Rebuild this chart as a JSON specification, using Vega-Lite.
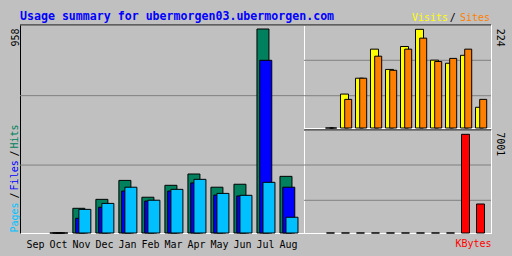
{
  "$schema": "https://vega.github.io/schema/vega-lite/v6.json",
  "autosize": {"type": "none"},
  "padding": {"left": 20, "top": 25, "right": 492, "bottom": 231},
  "background": "#c0c0c0",
  "bounds": "flush",
  "spacing": 0,
  "config": {
    "view": {"stroke": "white", "strokeWidth": 1},
    "font": "DejaVu Sans Mono",
    "axis": {
      "labelFont": "DejaVu Sans Mono", "titleFont": "DejaVu Sans Mono",
      "labelFontSize": 10, "titleFontSize": 10, "titleFontWeight": "normal",
      "labelColor": "black", "ticks": false, "tickSize": 0, "grid": false,
      "domainColor": "white", "domainWidth": 1,
      "labelFlush": false, "labelOverlap": false, "labelBound": false
    },
    "text": {"font": "DejaVu Sans Mono", "fontSize": 10}
  },
  "datasets": {
    "monthly": [
      {"month": "Oct", "hits": 0, "files": 0, "pages": 0, "visits": 0, "sites": 0, "kbytes": 0},
      {"month": "Nov", "hits": 116, "files": 69, "pages": 111, "visits": 77, "sites": 65, "kbytes": 0},
      {"month": "Dec", "hits": 158, "files": 121, "pages": 139, "visits": 113, "sites": 113, "kbytes": 0},
      {"month": "Jan", "hits": 247, "files": 197, "pages": 215, "visits": 179, "sites": 163, "kbytes": 0},
      {"month": "Feb", "hits": 168, "files": 150, "pages": 154, "visits": 133, "sites": 131, "kbytes": 0},
      {"month": "Mar", "hits": 224, "files": 197, "pages": 205, "visits": 185, "sites": 179, "kbytes": 0},
      {"month": "Apr", "hits": 277, "files": 235, "pages": 252, "visits": 224, "sites": 204, "kbytes": 0},
      {"month": "May", "hits": 215, "files": 178, "pages": 186, "visits": 154, "sites": 151, "kbytes": 0},
      {"month": "Jun", "hits": 229, "files": 174, "pages": 177, "visits": 147, "sites": 158, "kbytes": 0},
      {"month": "Jul", "hits": 958, "files": 811, "pages": 238, "visits": 165, "sites": 179, "kbytes": 7001},
      {"month": "Aug", "hits": 266, "files": 215, "pages": 74, "visits": 47, "sites": 65, "kbytes": 2057}
    ]
  },
  "hconcat": [
    {
      "width": 284,
      "height": 208,
      "title": {
        "text": "Usage summary for ubermorgen03.ubermorgen.com",
        "anchor": "start", "frame": "group", "color": "#0000ff",
        "font": "DejaVu Sans Mono", "fontSize": 11.6, "fontWeight": "bold",
        "baseline": "alphabetic", "offset": -7.5
      },
      "data": {"name": "monthly"},
      "layer": [
        {"data": {"values": [{}]}, "mark": {"type": "rule", "color": "#808080"}, "encoding": {"y": {"datum": 645, "type": "quantitative"}}},
        {"data": {"values": [{}]}, "mark": {"type": "rule", "color": "#808080"}, "encoding": {"y": {"datum": 319, "type": "quantitative"}}},
        {"data": {"values": [{}]}, "mark": {"type": "rule", "color": "black"}, "encoding": {"y": {"datum": 976.8, "type": "quantitative"}}},
        {
          "mark": {"type": "bar", "color": "#00805c", "stroke": "black", "strokeWidth": 1, "width": 12, "xOffset": -2.6},
          "encoding": {
            "x": {
              "field": "month", "type": "nominal", "title": null,
              "scale": {"domain": ["Sep", "Oct", "Nov", "Dec", "Jan", "Feb", "Mar", "Apr", "May", "Jun", "Jul", "Aug"], "paddingInner": 0, "paddingOuter": 0.17},
              "axis": {"labelAngle": 0, "labelBaseline": "alphabetic", "labelPadding": 14.5, "domainColor": "white"}
            },
            "y": {
              "field": "hits", "type": "quantitative", "title": null,
              "scale": {"domain": [0, 976.8], "nice": false, "zero": true},
              "axis": {"orient": "left", "values": [958], "format": "d", "labelAngle": 270, "labelAlign": "right", "labelBaseline": "alphabetic", "labelPadding": 1.7, "labelOffset": -1, "domainColor": "black"}
            }
          }
        },
        {
          "mark": {"type": "bar", "color": "#0000ff", "stroke": "black", "strokeWidth": 1, "width": 12, "xOffset": 0.2},
          "encoding": {
            "x": {"field": "month", "type": "nominal", "title": null},
            "y": {"field": "files", "type": "quantitative", "title": null}
          }
        },
        {
          "mark": {"type": "bar", "color": "#00c0ff", "stroke": "black", "strokeWidth": 1, "width": 12, "xOffset": 3.4},
          "encoding": {
            "x": {"field": "month", "type": "nominal", "title": null},
            "y": {"field": "pages", "type": "quantitative", "title": null}
          }
        },
        {"data": {"values": [{"label": "Pages"}]}, "mark": {"type": "text", "angle": 270, "align": "left", "baseline": "alphabetic", "dy": -17, "color": "#00c0ff"}, "encoding": {"x": {"datum": "Sep"}, "y": {"datum": 2, "type": "quantitative"}, "text": {"field": "label"}}},
        {"data": {"values": [{"label": "/"}]}, "mark": {"type": "text", "angle": 270, "align": "left", "baseline": "alphabetic", "dy": -17, "color": "black"}, "encoding": {"x": {"datum": "Sep"}, "y": {"datum": 162, "type": "quantitative"}, "text": {"field": "label"}}},
        {"data": {"values": [{"label": "Files"}]}, "mark": {"type": "text", "angle": 270, "align": "left", "baseline": "alphabetic", "dy": -17, "color": "#0000ff"}, "encoding": {"x": {"datum": "Sep"}, "y": {"datum": 200, "type": "quantitative"}, "text": {"field": "label"}}},
        {"data": {"values": [{"label": "/"}]}, "mark": {"type": "text", "angle": 270, "align": "left", "baseline": "alphabetic", "dy": -17, "color": "black"}, "encoding": {"x": {"datum": "Sep"}, "y": {"datum": 359, "type": "quantitative"}, "text": {"field": "label"}}},
        {"data": {"values": [{"label": "Hits"}]}, "mark": {"type": "text", "angle": 270, "align": "left", "baseline": "alphabetic", "dy": -17, "color": "#00805c"}, "encoding": {"x": {"datum": "Sep"}, "y": {"datum": 397, "type": "quantitative"}, "text": {"field": "label"}}}
      ]
    },
    {
      "bounds": "flush",
      "spacing": 2,
      "vconcat": [
        {
          "width": 187,
          "height": 103,
          "data": {"name": "monthly"},
          "layer": [
            {"data": {"values": [{}]}, "mark": {"type": "rule", "color": "#808080"}, "encoding": {"y": {"datum": 153.7, "type": "quantitative"}}},
            {"data": {"values": [{}]}, "mark": {"type": "rule", "color": "#808080"}, "encoding": {"y": {"datum": 73.3, "type": "quantitative"}}},
            {"data": {"values": [{}]}, "mark": {"type": "rule", "color": "black"}, "encoding": {"y": {"datum": 233.8, "type": "quantitative"}}},
            {
              "mark": {"type": "bar", "color": "#ffff00", "stroke": "black", "strokeWidth": 1, "width": 8, "xOffset": -0.5},
              "encoding": {
                "x": {
                  "field": "month", "type": "nominal", "title": null,
                  "scale": {"domain": ["Sep", "Oct", "Nov", "Dec", "Jan", "Feb", "Mar", "Apr", "May", "Jun", "Jul", "Aug"], "paddingInner": 0, "paddingOuter": 0.233},
                  "axis": {"labels": false, "domainColor": "white"}
                },
                "y": {
                  "field": "visits", "type": "quantitative", "title": null,
                  "scale": {"domain": [0, 233.8], "nice": false, "zero": true},
                  "axis": {"orient": "right", "values": [224], "format": "d", "labelAngle": 90, "labelAlign": "left", "labelBaseline": "alphabetic", "labelPadding": 5.5, "labelOffset": -1, "domainColor": "white"}
                }
              }
            },
            {
              "mark": {"type": "bar", "color": "#ff8000", "stroke": "black", "strokeWidth": 1, "width": 7, "xOffset": 3.2},
              "encoding": {
                "x": {"field": "month", "type": "nominal", "title": null},
                "y": {"field": "sites", "type": "quantitative", "title": null}
              }
            },
            {"data": {"values": [{"label": "Visits"}]}, "mark": {"type": "text", "align": "right", "baseline": "alphabetic", "dx": -32, "dy": -4.5, "color": "#ffff00"}, "encoding": {"x": {"datum": "Aug"}, "y": {"datum": 233.8, "type": "quantitative"}, "text": {"field": "label"}}},
            {"data": {"values": [{"label": "/"}]}, "mark": {"type": "text", "align": "center", "baseline": "alphabetic", "dx": -27.2, "dy": -4.5, "color": "black"}, "encoding": {"x": {"datum": "Aug"}, "y": {"datum": 233.8, "type": "quantitative"}, "text": {"field": "label"}}},
            {"data": {"values": [{"label": "Sites"}]}, "mark": {"type": "text", "align": "right", "baseline": "alphabetic", "dx": 10, "dy": -4.5, "color": "#ff8000"}, "encoding": {"x": {"datum": "Aug"}, "y": {"datum": 233.8, "type": "quantitative"}, "text": {"field": "label"}}}
          ]
        },
        {
          "width": 187,
          "height": 103,
          "data": {"name": "monthly"},
          "layer": [
            {"data": {"values": [{}]}, "mark": {"type": "rule", "color": "#808080"}, "encoding": {"y": {"datum": 4823, "type": "quantitative"}}},
            {"data": {"values": [{}]}, "mark": {"type": "rule", "color": "#808080"}, "encoding": {"y": {"datum": 2319, "type": "quantitative"}}},
            {"data": {"values": [{}]}, "mark": {"type": "rule", "color": "black"}, "encoding": {"y": {"datum": 7306, "type": "quantitative"}}},
            {
              "mark": {"type": "bar", "color": "#ff0000", "stroke": "black", "strokeWidth": 1, "width": 8, "xOffset": 0.5},
              "encoding": {
                "x": {
                  "field": "month", "type": "nominal", "title": null,
                  "scale": {"domain": ["Sep", "Oct", "Nov", "Dec", "Jan", "Feb", "Mar", "Apr", "May", "Jun", "Jul", "Aug"], "paddingInner": 0, "paddingOuter": 0.233},
                  "axis": {"labels": false, "domainColor": "white", "title": "KBytes", "titleColor": "#ff0000", "titleAnchor": "end", "titleAlign": "right", "titleBaseline": "alphabetic", "titlePadding": 13.5, "titleFontWeight": "normal"}
                },
                "y": {
                  "field": "kbytes", "type": "quantitative", "title": null,
                  "scale": {"domain": [0, 7306], "nice": false, "zero": true},
                  "axis": {"orient": "right", "values": [7001], "format": "d", "labelAngle": 90, "labelAlign": "left", "labelBaseline": "alphabetic", "labelPadding": 5.5, "labelOffset": -2.5, "domainColor": "white"}
                }
              }
            }
          ]
        }
      ]
    }
  ]
}
